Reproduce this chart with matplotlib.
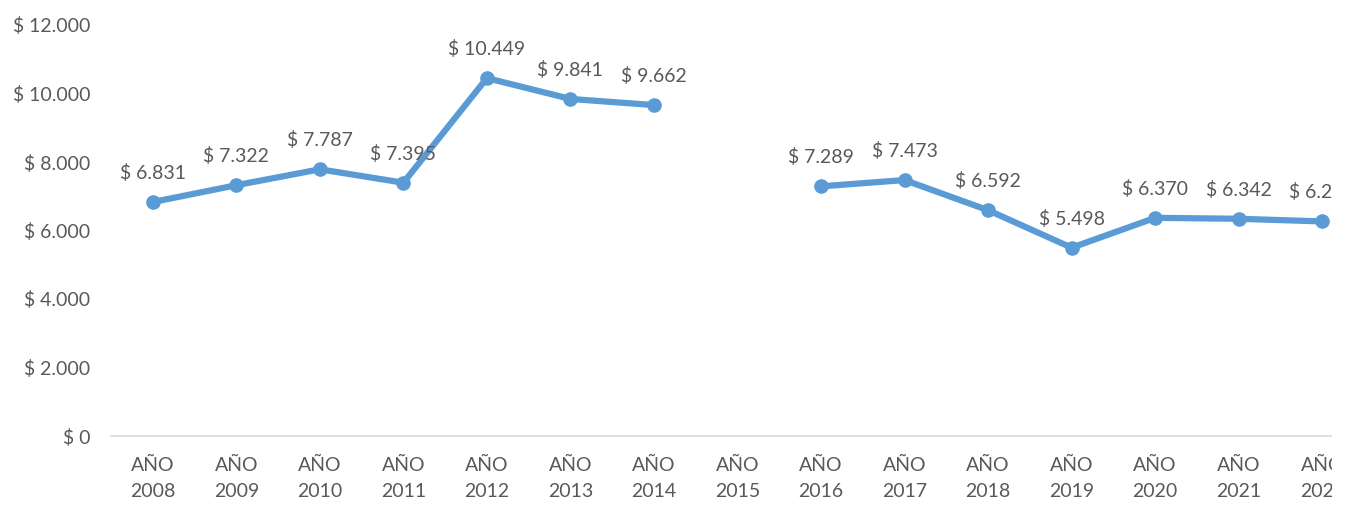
import numpy as np
import matplotlib
matplotlib.use("Agg")
import matplotlib.pyplot as plt
from matplotlib.patches import Rectangle
from matplotlib.ticker import FuncFormatter

years = ["2008", "2009", "2010", "2011", "2012", "2013", "2014", "2015",
         "2016", "2017", "2018", "2019", "2020", "2021", "2022"]
values = [6831, 7322, 7787, 7395, 10449, 9841, 9662, np.nan,
          7289, 7473, 6592, 5498, 6370, 6342, 6265]
yticks = [0, 2000, 4000, 6000, 8000, 10000, 12000]

LINE_C = "#5B9BD5"
TEXT_C = "#595959"
FS = 14

plt.rcParams["font.family"] = ["Lato", "DejaVu Sans"]

W, H = 1347, 507
fig = plt.figure(figsize=(W / 100, H / 100), dpi=100)
# axes runs past the right edge; the last category is cut off
x0, x1 = 111, 1364
y0, y1 = 436, 25
ax = fig.add_axes([x0 / W, 1 - y0 / H, (x1 - x0) / W, (y0 - y1) / H])

def money(v, _pos=None):
    return "$ " + f"{int(round(v)):,}".replace(",", ".")

x = np.arange(len(years))
ax.plot(x, values, color=LINE_C, lw=4.5, marker="o", ms=9.5,
        solid_capstyle="round", zorder=3)

for xi, v in zip(x, values):
    if np.isnan(v):
        continue
    ax.annotate(money(v), (xi, v), xytext=(0, 21), textcoords="offset points",
                ha="center", va="center", fontsize=FS, color=TEXT_C)

ax.set_xlim(-0.5, len(years) - 0.5)
ax.set_ylim(0, 12000)
ax.set_yticks(yticks)
ax.yaxis.set_major_formatter(FuncFormatter(money))
ax.set_xticks(x)
ax.set_xticklabels([f"AÑO\n{y}" for y in years], linespacing=1.65)

for s in ["top", "right", "left"]:
    ax.spines[s].set_visible(False)
ax.spines["bottom"].set_color("#D9D9D9")
ax.spines["bottom"].set_linewidth(1.2)
ax.tick_params(axis="both", length=0, labelsize=FS, labelcolor=TEXT_C)
ax.tick_params(axis="y", pad=15)
ax.tick_params(axis="x", pad=15)
ax.set_facecolor("none")

# blank strip along the right edge
fig.add_artist(Rectangle((1332 / W, 0), 1, 1, transform=fig.transFigure,
                         facecolor="white", edgecolor="none", zorder=10))

fig.savefig("out.png", dpi=100, facecolor="white")
